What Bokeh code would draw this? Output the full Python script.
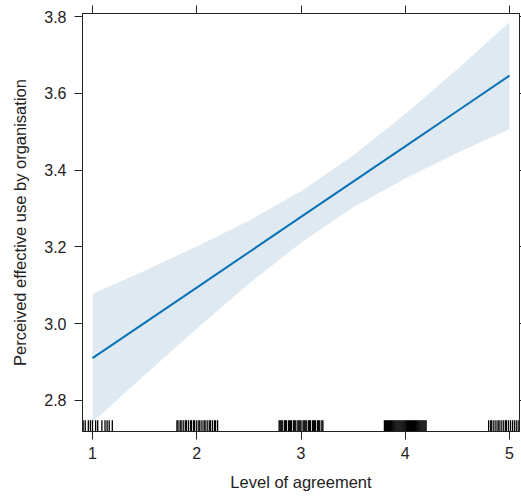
from bokeh.plotting import figure
from bokeh.models import Range1d, FixedTicker, LinearAxis, ColumnDataSource
from bokeh.embed import file_html
from bokeh.resources import INLINE

# Fitted effect of agreement level on perceived effective use, with 95% band
agree_x = [1.0, 1.5, 2.0, 2.5, 3.0, 3.5, 4.0, 4.5, 5.0]
fit_y = [2.910, 3.002, 3.094, 3.186, 3.278, 3.370, 3.462, 3.554, 3.646]
lower_y = [2.743, 2.866, 2.987, 3.104, 3.211, 3.303, 3.378, 3.445, 3.507]
upper_y = [3.077, 3.138, 3.201, 3.268, 3.345, 3.438, 3.546, 3.663, 3.785]

# Jittered observed responses shown as a rug along the x axis
rug_x = [
    0.82, 0.85, 0.88, 0.91, 0.93, 0.96, 0.98, 1.00, 1.03, 1.05, 1.09, 1.12,
    1.14, 1.16, 1.19,
    1.81, 1.82, 1.84, 1.85, 1.87, 1.89, 1.90, 1.92, 1.94, 1.95, 1.97, 1.98,
    2.00, 2.02, 2.03, 2.05, 2.07, 2.08, 2.10, 2.12, 2.13, 2.15, 2.17, 2.18, 2.20,
    2.79, 2.80, 2.81, 2.82, 2.84, 2.85, 2.86, 2.88, 2.89, 2.90, 2.91, 2.93,
    2.94, 2.95, 2.97, 2.98, 2.99, 3.00, 3.02, 3.03, 3.04, 3.05, 3.07, 3.08,
    3.09, 3.11, 3.12, 3.13, 3.14, 3.16, 3.17, 3.18, 3.20, 3.21,
    3.80, 3.81, 3.82, 3.83, 3.84, 3.85, 3.86, 3.87, 3.88, 3.89, 3.90, 3.91,
    3.92, 3.93, 3.94, 3.95, 3.96, 3.97, 3.98, 3.99, 4.00, 4.01, 4.02, 4.03,
    4.04, 4.05, 4.06, 4.07, 4.08, 4.09, 4.10, 4.11, 4.12, 4.13, 4.14, 4.15,
    4.16, 4.17, 4.18, 4.19, 4.20,
    4.80, 4.82, 4.83, 4.85, 4.87, 4.89, 4.90, 4.92, 4.94, 4.96, 4.97, 4.99,
    5.01, 5.03, 5.05, 5.07, 5.09, 5.12, 5.15,
]

x_ticks = [1, 2, 3, 4, 5]
y_ticks = [2.8, 3.0, 3.2, 3.4, 3.6, 3.8]
y_tick_labels = ["2.8", "3.0", "3.2", "3.4", "3.6", "3.8"]

X_LO, X_HI = 0.904, 5.096
Y_LO, Y_HI = 2.719, 3.808
RUG_FRAC = 0.027  # rug height as a fraction of the y span

FONT = "Liberation Sans"
TEXT = "#222222"
FRAME = "#222222"

p = figure(
    width=521, height=497,
    x_range=Range1d(X_LO, X_HI), y_range=Range1d(Y_LO, Y_HI),
    output_backend="svg", toolbar_location=None,
    min_border_left=82, min_border_right=2, min_border_top=13, min_border_bottom=66,
)
p.background_fill_color = "white"
p.border_fill_color = "white"
p.outline_line_color = FRAME
p.outline_line_width = 1
p.xgrid.visible = False
p.ygrid.visible = False

# confidence band and fitted line
p.varea(x=agree_x, y1=lower_y, y2=upper_y, fill_color="#dee9f2", fill_alpha=1.0)
p.line(x=agree_x, y=fit_y, line_color="#0a72b5", line_width=2)

# rug
rug_src = ColumnDataSource(dict(
    x=rug_x,
    y0=[Y_LO] * len(rug_x),
    y1=[Y_LO + RUG_FRAC * (Y_HI - Y_LO)] * len(rug_x),
))
p.segment(x0="x", y0="y0", x1="x", y1="y1", source=rug_src,
          line_color="black", line_width=1.3)


def style_axis(ax, tick_out=8):
    ax.axis_line_color = FRAME
    ax.major_tick_line_color = FRAME
    ax.major_tick_in = 0
    ax.major_tick_out = tick_out
    ax.minor_tick_line_color = None
    ax.major_label_text_font = FONT
    ax.major_label_text_color = TEXT
    ax.major_label_text_font_size = "16px"
    ax.axis_label_text_font = FONT
    ax.axis_label_text_color = TEXT
    ax.axis_label_text_font_style = "normal"
    ax.axis_label_text_font_size = "16.5px"


xa = p.xaxis[0]
xa.ticker = FixedTicker(ticks=x_ticks)
xa.axis_label = "Level of agreement"
style_axis(xa)
xa.major_label_standoff = 7
xa.axis_label_standoff = 11

ya = p.yaxis[0]
ya.ticker = FixedTicker(ticks=y_ticks)
ya.major_label_overrides = {t: s for t, s in zip(y_ticks, y_tick_labels)}
ya.axis_label = "Perceived effective use by organisation"
style_axis(ya)
ya.major_label_standoff = 8
ya.axis_label_standoff = 12

# tick marks only on the top and right edges
top = LinearAxis(ticker=FixedTicker(ticks=x_ticks))
style_axis(top)
top.major_label_overrides = {t: "" for t in x_ticks}
top.major_label_standoff = 0
p.add_layout(top, "above")

right = LinearAxis(ticker=FixedTicker(ticks=y_ticks))
style_axis(right, tick_out=2)
right.major_label_overrides = {t: "" for t in y_ticks}
right.major_label_standoff = 0
p.add_layout(right, "right")

open("out.html", "w").write(file_html(p, INLINE))
